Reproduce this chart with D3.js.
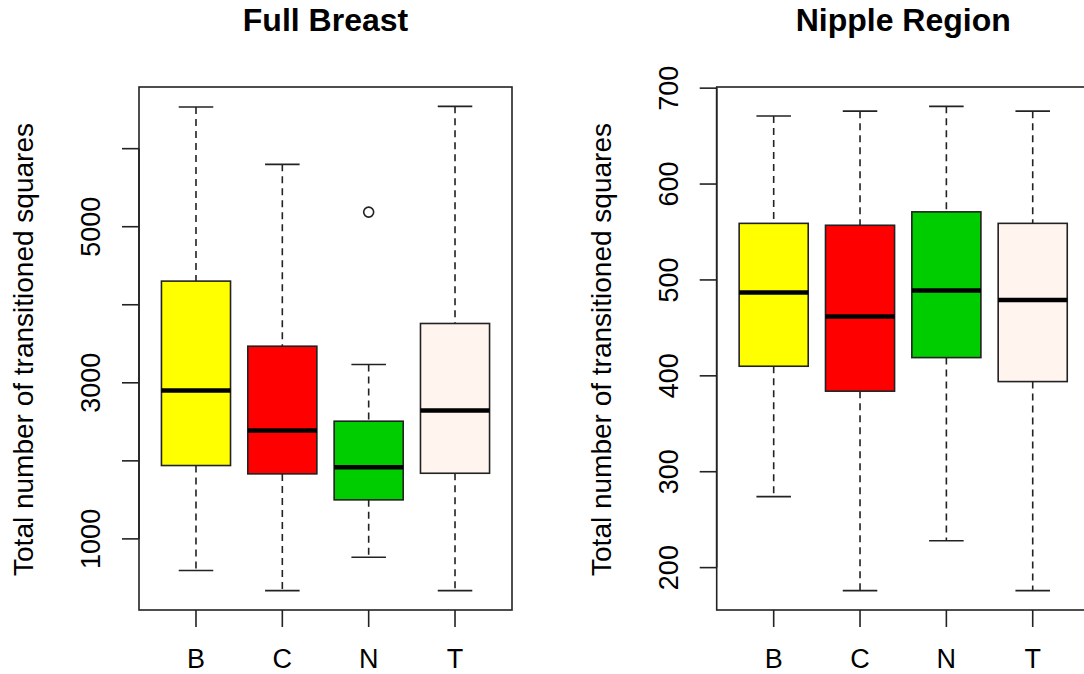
<!DOCTYPE html>
<html lang="en">
<head>
    <script src="https://d3js.org/d3.v7.min.js"></script>
    <style>
        body {
            margin: 0px;
            background: #fff;
        }
        text {
            font-family: "Liberation Sans", Arial, sans-serif;
            fill: #000;
        }
    </style>
</head>
<body>
<svg id="chart"></svg>
<script>
// Groups and box colours
var categories = ["B", "C", "N", "T"];
var boxColors = ["#ffff00", "#ff0000", "#00cd00", "#fff5ee"];

// Full Breast: five number summaries
var fullLow = [594, 337, 764, 337];
var fullQ1 = [1940, 1833, 1500, 1841];
var fullMedian = [2901, 2388, 1918, 2645];
var fullQ3 = [4303, 3469, 2508, 3760];
var fullHigh = [6533, 5799, 3235, 6542];
var fullOutliers = [[], [], [5187], []];
var fullTicks = [1000, 2000, 3000, 4000, 5000, 6000];
var fullTickLabels = [1000, 3000, 5000];

// Nipple Region
var nippleLow = [274, 176, 228, 176];
var nippleQ1 = [410, 384, 419, 394];
var nippleMedian = [487, 462, 489, 479];
var nippleQ3 = [559, 557, 571, 559];
var nippleHigh = [671, 676, 681, 676];
var nippleOutliers = [[], [], [], []];
var nippleTicks = [200, 300, 400, 500, 600, 700];
var nippleTickLabels = [200, 300, 400, 500, 600, 700];

var width = 1084;
var height = 674;
var plotTop = 87, plotBottom = 610, plotWidth = 373;
var lineColor = "#222";

var svg = d3.select("#chart")
    .attr("width", width)
    .attr("height", height);

function buildStats(low, q1, med, q3, high, outs) {
    return categories.map(function(c, i) {
        return {name: c, color: boxColors[i], low: low[i], q1: q1[i],
                median: med[i], q3: q3[i], high: high[i], outliers: outs[i]};
    });
}

// Draw one boxplot panel, R style
function drawPanel(left, title, stats, ticks, tickLabels) {
    var g = svg.append("g");

    // y range padded by 4% like R does
    var allVals = [];
    stats.forEach(function(d) {
        allVals.push(d.low, d.high);
        d.outliers.forEach(function(o) { allVals.push(o); });
    });
    var lo = d3.min(allVals), hi = d3.max(allVals);
    var pad = (hi - lo) * 0.04;
    var y = d3.scaleLinear().domain([lo - pad, hi + pad]).range([plotBottom, plotTop]);
    var x = d3.scaleLinear().domain([0.34, 4.66]).range([left, left + plotWidth]);
    var unit = x(1) - x(0);
    var boxW = 0.8 * unit, capW = 0.4 * unit;

    // Plot frame
    g.append("rect")
        .attr("x", left).attr("y", plotTop)
        .attr("width", plotWidth).attr("height", plotBottom - plotTop)
        .attr("fill", "none").attr("stroke", lineColor).attr("stroke-width", 1.6);

    // y axis ticks
    g.selectAll(".ytick").data(ticks).enter().append("line")
        .attr("x1", left - 17).attr("x2", left)
        .attr("y1", function(d) { return y(d); })
        .attr("y2", function(d) { return y(d); })
        .attr("stroke", lineColor).attr("stroke-width", 1.6);
    g.append("line")
        .attr("x1", left).attr("x2", left)
        .attr("y1", y(ticks[0])).attr("y2", y(ticks[ticks.length - 1]))
        .attr("stroke", lineColor).attr("stroke-width", 1.6);

    g.selectAll(".ylab").data(tickLabels).enter().append("text")
        .attr("transform", function(d) {
            return "translate(" + (left - 39) + "," + y(d) + ") rotate(-90)";
        })
        .attr("text-anchor", "middle")
        .style("font-size", "27px")
        .text(function(d) { return d; });

    // x axis ticks and labels
    g.selectAll(".xtick").data(stats).enter().append("line")
        .attr("x1", function(d, i) { return x(i + 1); })
        .attr("x2", function(d, i) { return x(i + 1); })
        .attr("y1", plotBottom).attr("y2", plotBottom + 17)
        .attr("stroke", lineColor).attr("stroke-width", 1.6);
    g.selectAll(".xlab").data(stats).enter().append("text")
        .attr("x", function(d, i) { return x(i + 1); })
        .attr("y", 668)
        .attr("text-anchor", "middle")
        .style("font-size", "27px")
        .text(function(d) { return d.name; });

    // Axis title
    g.append("text")
        .attr("transform", "translate(" + (left - 106) + "," + ((plotTop + plotBottom) / 2 + 1) + ") rotate(-90)")
        .attr("text-anchor", "middle")
        .style("font-size", "28px")
        .text("Total number of transitioned squares");

    // Main title
    g.append("text")
        .attr("x", left + plotWidth / 2)
        .attr("y", 31)
        .attr("text-anchor", "middle")
        .style("font-size", "32px")
        .style("font-weight", "bold")
        .text(title);

    var boxes = g.selectAll(".box").data(stats).enter().append("g");

    // dashed whiskers
    boxes.append("line")
        .attr("x1", function(d, i) { return x(i + 1); })
        .attr("x2", function(d, i) { return x(i + 1); })
        .attr("y1", function(d) { return y(d.high); })
        .attr("y2", function(d) { return y(d.q3); })
        .attr("stroke", lineColor).attr("stroke-width", 1.6)
        .attr("stroke-dasharray", "7,5");
    boxes.append("line")
        .attr("x1", function(d, i) { return x(i + 1); })
        .attr("x2", function(d, i) { return x(i + 1); })
        .attr("y1", function(d) { return y(d.q1); })
        .attr("y2", function(d) { return y(d.low); })
        .attr("stroke", lineColor).attr("stroke-width", 1.6)
        .attr("stroke-dasharray", "7,5");

    // whisker caps
    ["high", "low"].forEach(function(k) {
        boxes.append("line")
            .attr("x1", function(d, i) { return x(i + 1) - capW / 2; })
            .attr("x2", function(d, i) { return x(i + 1) + capW / 2; })
            .attr("y1", function(d) { return y(d[k]); })
            .attr("y2", function(d) { return y(d[k]); })
            .attr("stroke", lineColor).attr("stroke-width", 1.6);
    });

    // boxes
    boxes.append("rect")
        .attr("x", function(d, i) { return x(i + 1) - boxW / 2; })
        .attr("width", boxW)
        .attr("y", function(d) { return y(d.q3); })
        .attr("height", function(d) { return y(d.q1) - y(d.q3); })
        .attr("fill", function(d) { return d.color; })
        .attr("stroke", lineColor).attr("stroke-width", 1.6);

    // medians
    boxes.append("line")
        .attr("x1", function(d, i) { return x(i + 1) - boxW / 2; })
        .attr("x2", function(d, i) { return x(i + 1) + boxW / 2; })
        .attr("y1", function(d) { return y(d.median); })
        .attr("y2", function(d) { return y(d.median); })
        .attr("stroke", "#000").attr("stroke-width", 4.5);

    // outliers
    boxes.each(function(d, i) {
        d3.select(this).selectAll("circle").data(d.outliers).enter().append("circle")
            .attr("cx", x(i + 1))
            .attr("cy", function(v) { return y(v); })
            .attr("r", 5)
            .attr("fill", "none")
            .attr("stroke", lineColor).attr("stroke-width", 1.6);
    });
}

drawPanel(139, "Full Breast",
    buildStats(fullLow, fullQ1, fullMedian, fullQ3, fullHigh, fullOutliers),
    fullTicks, fullTickLabels);
drawPanel(716.7, "Nipple Region",
    buildStats(nippleLow, nippleQ1, nippleMedian, nippleQ3, nippleHigh, nippleOutliers),
    nippleTicks, nippleTickLabels);
</script>
</body>
</html>
